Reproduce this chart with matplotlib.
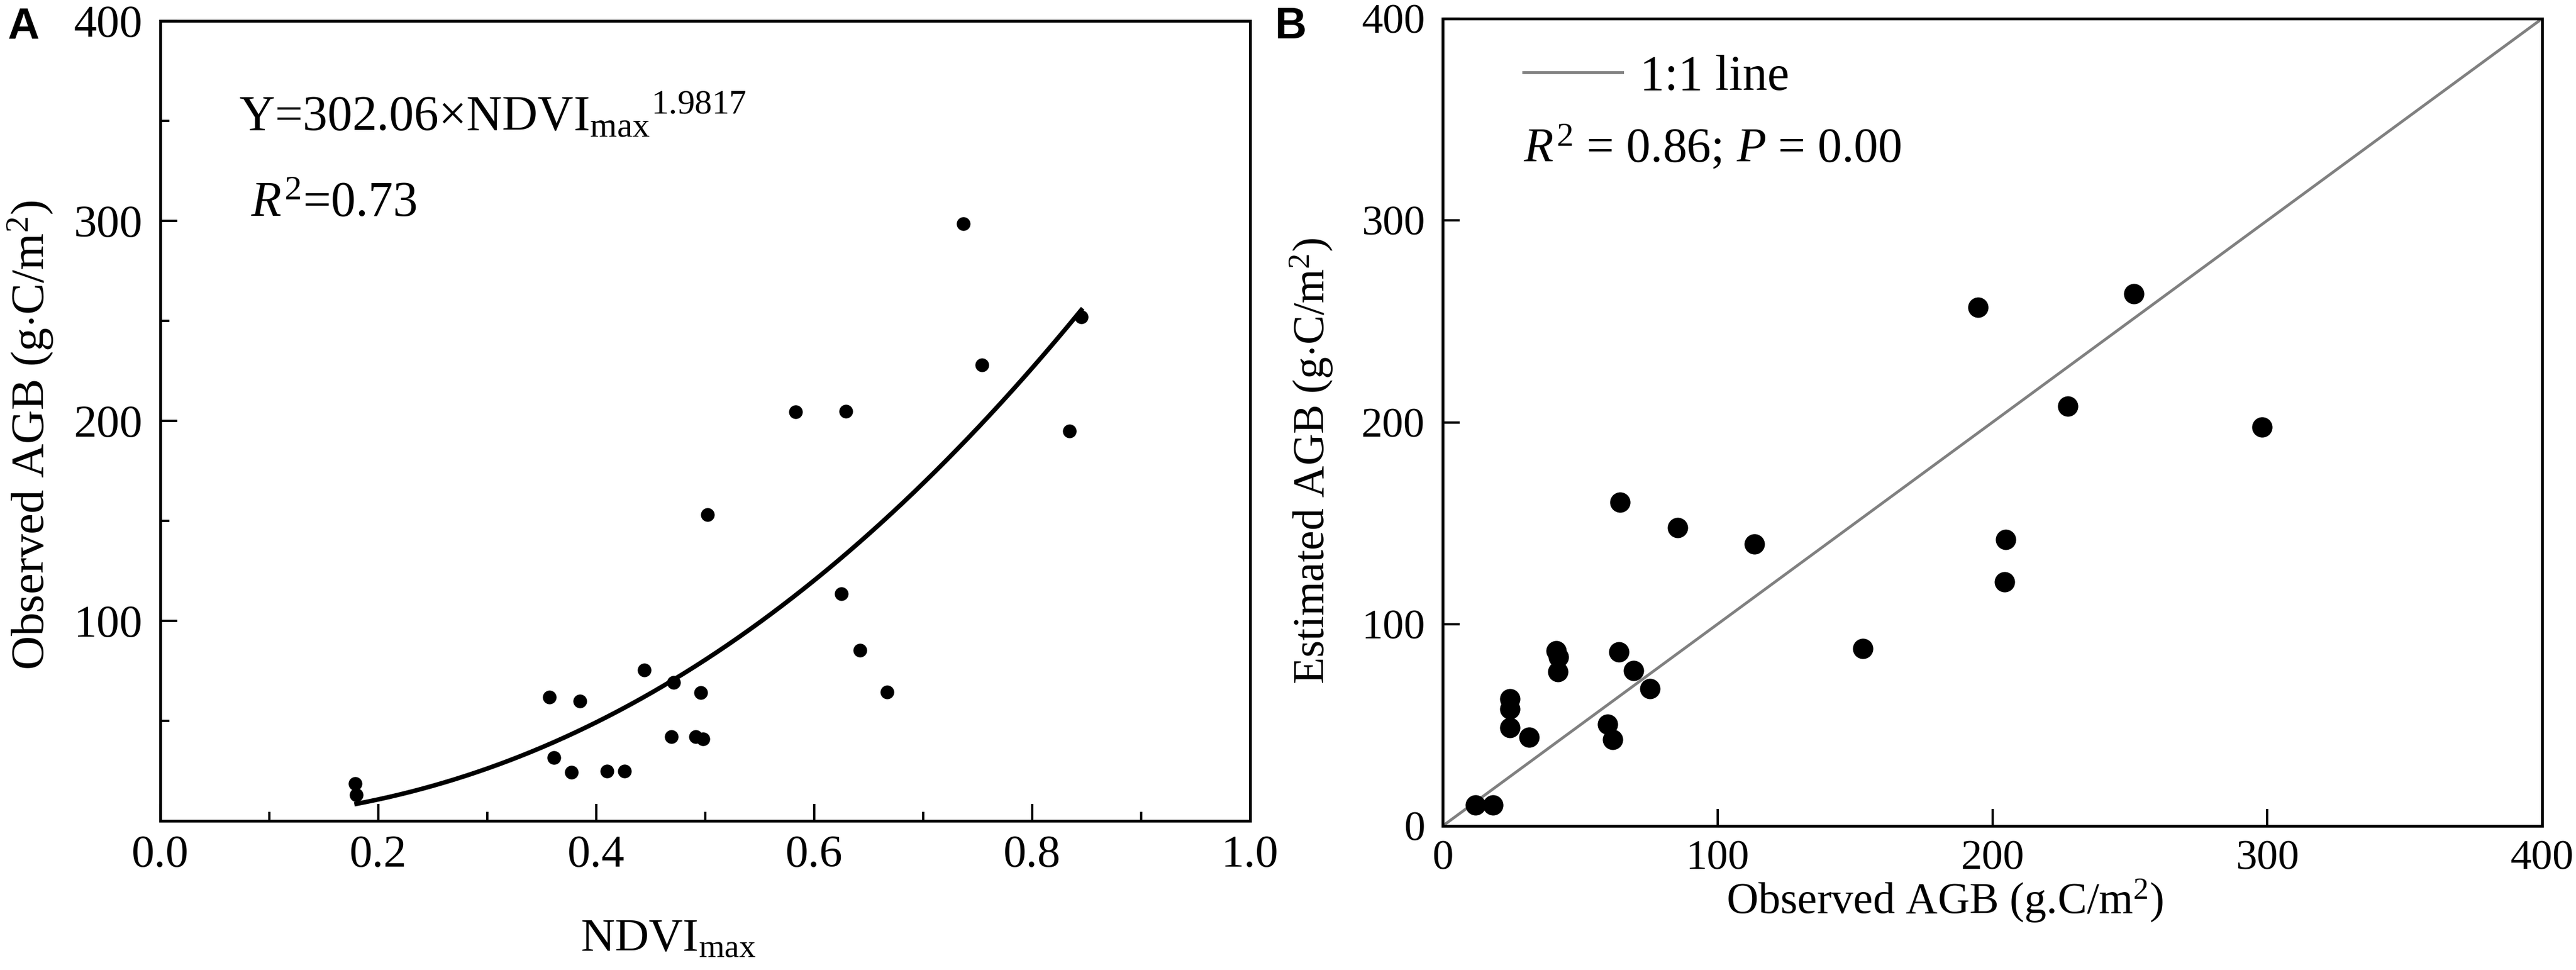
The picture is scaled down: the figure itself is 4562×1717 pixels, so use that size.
import numpy as np
import matplotlib
matplotlib.use('Agg')
import matplotlib.pyplot as plt

# panel A: NDVImax vs observed AGB
ndvi_max = [0.737, 0.845, 0.754, 0.583, 0.629, 0.834, 0.502, 0.625, 0.642, 0.444,
            0.471, 0.496, 0.667, 0.357, 0.385, 0.469, 0.491, 0.498, 0.361, 0.377,
            0.410, 0.426, 0.179, 0.180]
agb_observed = [298.5, 252.0, 227.9, 204.5, 204.9, 194.9, 153.1, 113.6, 85.4, 75.4,
                69.1, 64.1, 64.5, 62.0, 59.9, 42.0, 42.2, 41.1, 31.5, 24.2,
                24.8, 24.8, 18.6, 13.1]

# fitted power curve as drawn in the figure
fit_a = 370.0
fit_b = 2.2
fit_range = [0.18, 0.845]

# panel B: observed vs estimated AGB
obs_agb = [194.7, 251.5, 227.4, 298.1, 64.6, 85.5, 113.4, 204.8, 204.4, 152.9,
           41.3, 42.1, 64.2, 42.0, 69.4, 75.3, 24.5, 24.5, 24.5, 31.5,
           60.0, 61.8, 12.0, 18.3]
est_agb = [256.9, 263.6, 207.9, 197.6, 160.4, 147.8, 139.7, 141.8, 120.8, 87.8,
           86.7, 83.6, 86.3, 76.3, 76.9, 68.1, 63.0, 58.0, 48.7, 43.9,
           50.5, 42.8, 10.3, 10.3]

xticks_a = [0.0, 0.2, 0.4, 0.6, 0.8, 1.0]
xminor_a = [0.1, 0.3, 0.5, 0.7, 0.9]
yticks_a = [100, 200, 300, 400]
yminor_a = [50, 150, 250, 350]
ticks_b = [0, 100, 200, 300, 400]

SERIF = 'Liberation Serif'
plt.rcParams['font.family'] = [SERIF, 'DejaVu Serif']
plt.rcParams['mathtext.fontset'] = 'custom'
plt.rcParams['mathtext.rm'] = SERIF
plt.rcParams['mathtext.it'] = SERIF + ':italic'
plt.rcParams['axes.linewidth'] = 1.2

W, H = 4562, 1717
fig = plt.figure(figsize=(W / 300, H / 300), dpi=300)


def axes_from_px(left, top, right, bottom):
    return fig.add_axes([left / W, 1 - bottom / H, (right - left) / W, (bottom - top) / H])


def style_ticks(ax, size):
    ax.tick_params(which='both', direction='in', top=False, right=False, width=1.0)
    ax.tick_params(which='major', length=7.2, labelsize=size, labelfontfamily=SERIF)
    ax.tick_params(which='minor', length=3.8)
    ax.tick_params(axis='y', pad=7.5)
    ax.tick_params(axis='x', pad=6)


# ---- panel A ----
ax1 = axes_from_px(284, 37, 2214, 1453)
ax1.scatter(ndvi_max, agb_observed, s=34, color='black', linewidths=0, zorder=3)
xs = np.linspace(fit_range[0], fit_range[1], 200)
ax1.plot(xs, fit_a * xs ** fit_b, color='black', lw=1.9)
ax1.set_xlim(0, 1.0)
ax1.set_ylim(0, 400)
ax1.set_xticks(xticks_a)
ax1.set_xticks(xminor_a, minor=True)
ax1.set_xticklabels(['%.1f' % v for v in xticks_a])
ax1.set_yticks(yticks_a)
ax1.set_yticks(yminor_a, minor=True)
style_ticks(ax1, 19.5)

ax1.set_xlabel(r'NDVI$_{\mathrm{max}}$', fontsize=20, va='baseline')
ax1.xaxis.set_label_coords(0.466, -0.1624)
ax1.set_ylabel(r'Observed AGB (g$\cdot$C/m$^{2}$)', fontsize=20, va='baseline')
ax1.yaxis.set_label_coords(-0.1067, 0.482)

ax1.text(0.072, 0.8637, r'Y=302.06×NDVI$_{\mathrm{max}}$$^{1.9817}$',
         transform=ax1.transAxes, fontsize=21, va='baseline')
ax1.text(0.083, 0.7564, r'$R^{2}$=0.73', transform=ax1.transAxes,
         fontsize=21, va='baseline')

# ---- panel B ----
ax2 = axes_from_px(2555, 33, 4502, 1462)
ax2.plot([0, 400], [0, 400], color='#808080', lw=1.2, label='1:1 line')
ax2.scatter(obs_agb, est_agb, s=75, color='black', linewidths=0, zorder=3)
ax2.set_xlim(0, 400)
ax2.set_ylim(0, 400)
ax2.set_xticks(ticks_b)
ax2.set_yticks(ticks_b)
style_ticks(ax2, 18)

ax2.set_xlabel(r'Observed AGB (g.C/m$^{2}$)', fontsize=18.7, va='baseline')
ax2.xaxis.set_label_coords(0.457, -0.1085)
ax2.set_ylabel(r'Estimated AGB (g$\cdot$C/m$^{2}$)', fontsize=18.7, va='baseline')
ax2.yaxis.set_label_coords(-0.1079, 0.452)

ax2.legend(loc='center left', bbox_to_anchor=(0.0734, 0.9272), frameon=False,
           fontsize=21, handlelength=2.0, handletextpad=0.35,
           borderpad=0, borderaxespad=0)
ax2.text(0.0734, 0.8223, r'$R^{2}$ = 0.86; $P$ = 0.00', transform=ax2.transAxes,
         fontsize=20.6, va='baseline')

# panel letters
fig.text(13 / W, 1 - 68 / H, 'A', fontsize=18.7, fontweight='bold',
         family='Liberation Sans', va='baseline')
fig.text(2258 / W, 1 - 68 / H, 'B', fontsize=18.7, fontweight='bold',
         family='Liberation Sans', va='baseline')

fig.savefig('out.png', dpi=300)
